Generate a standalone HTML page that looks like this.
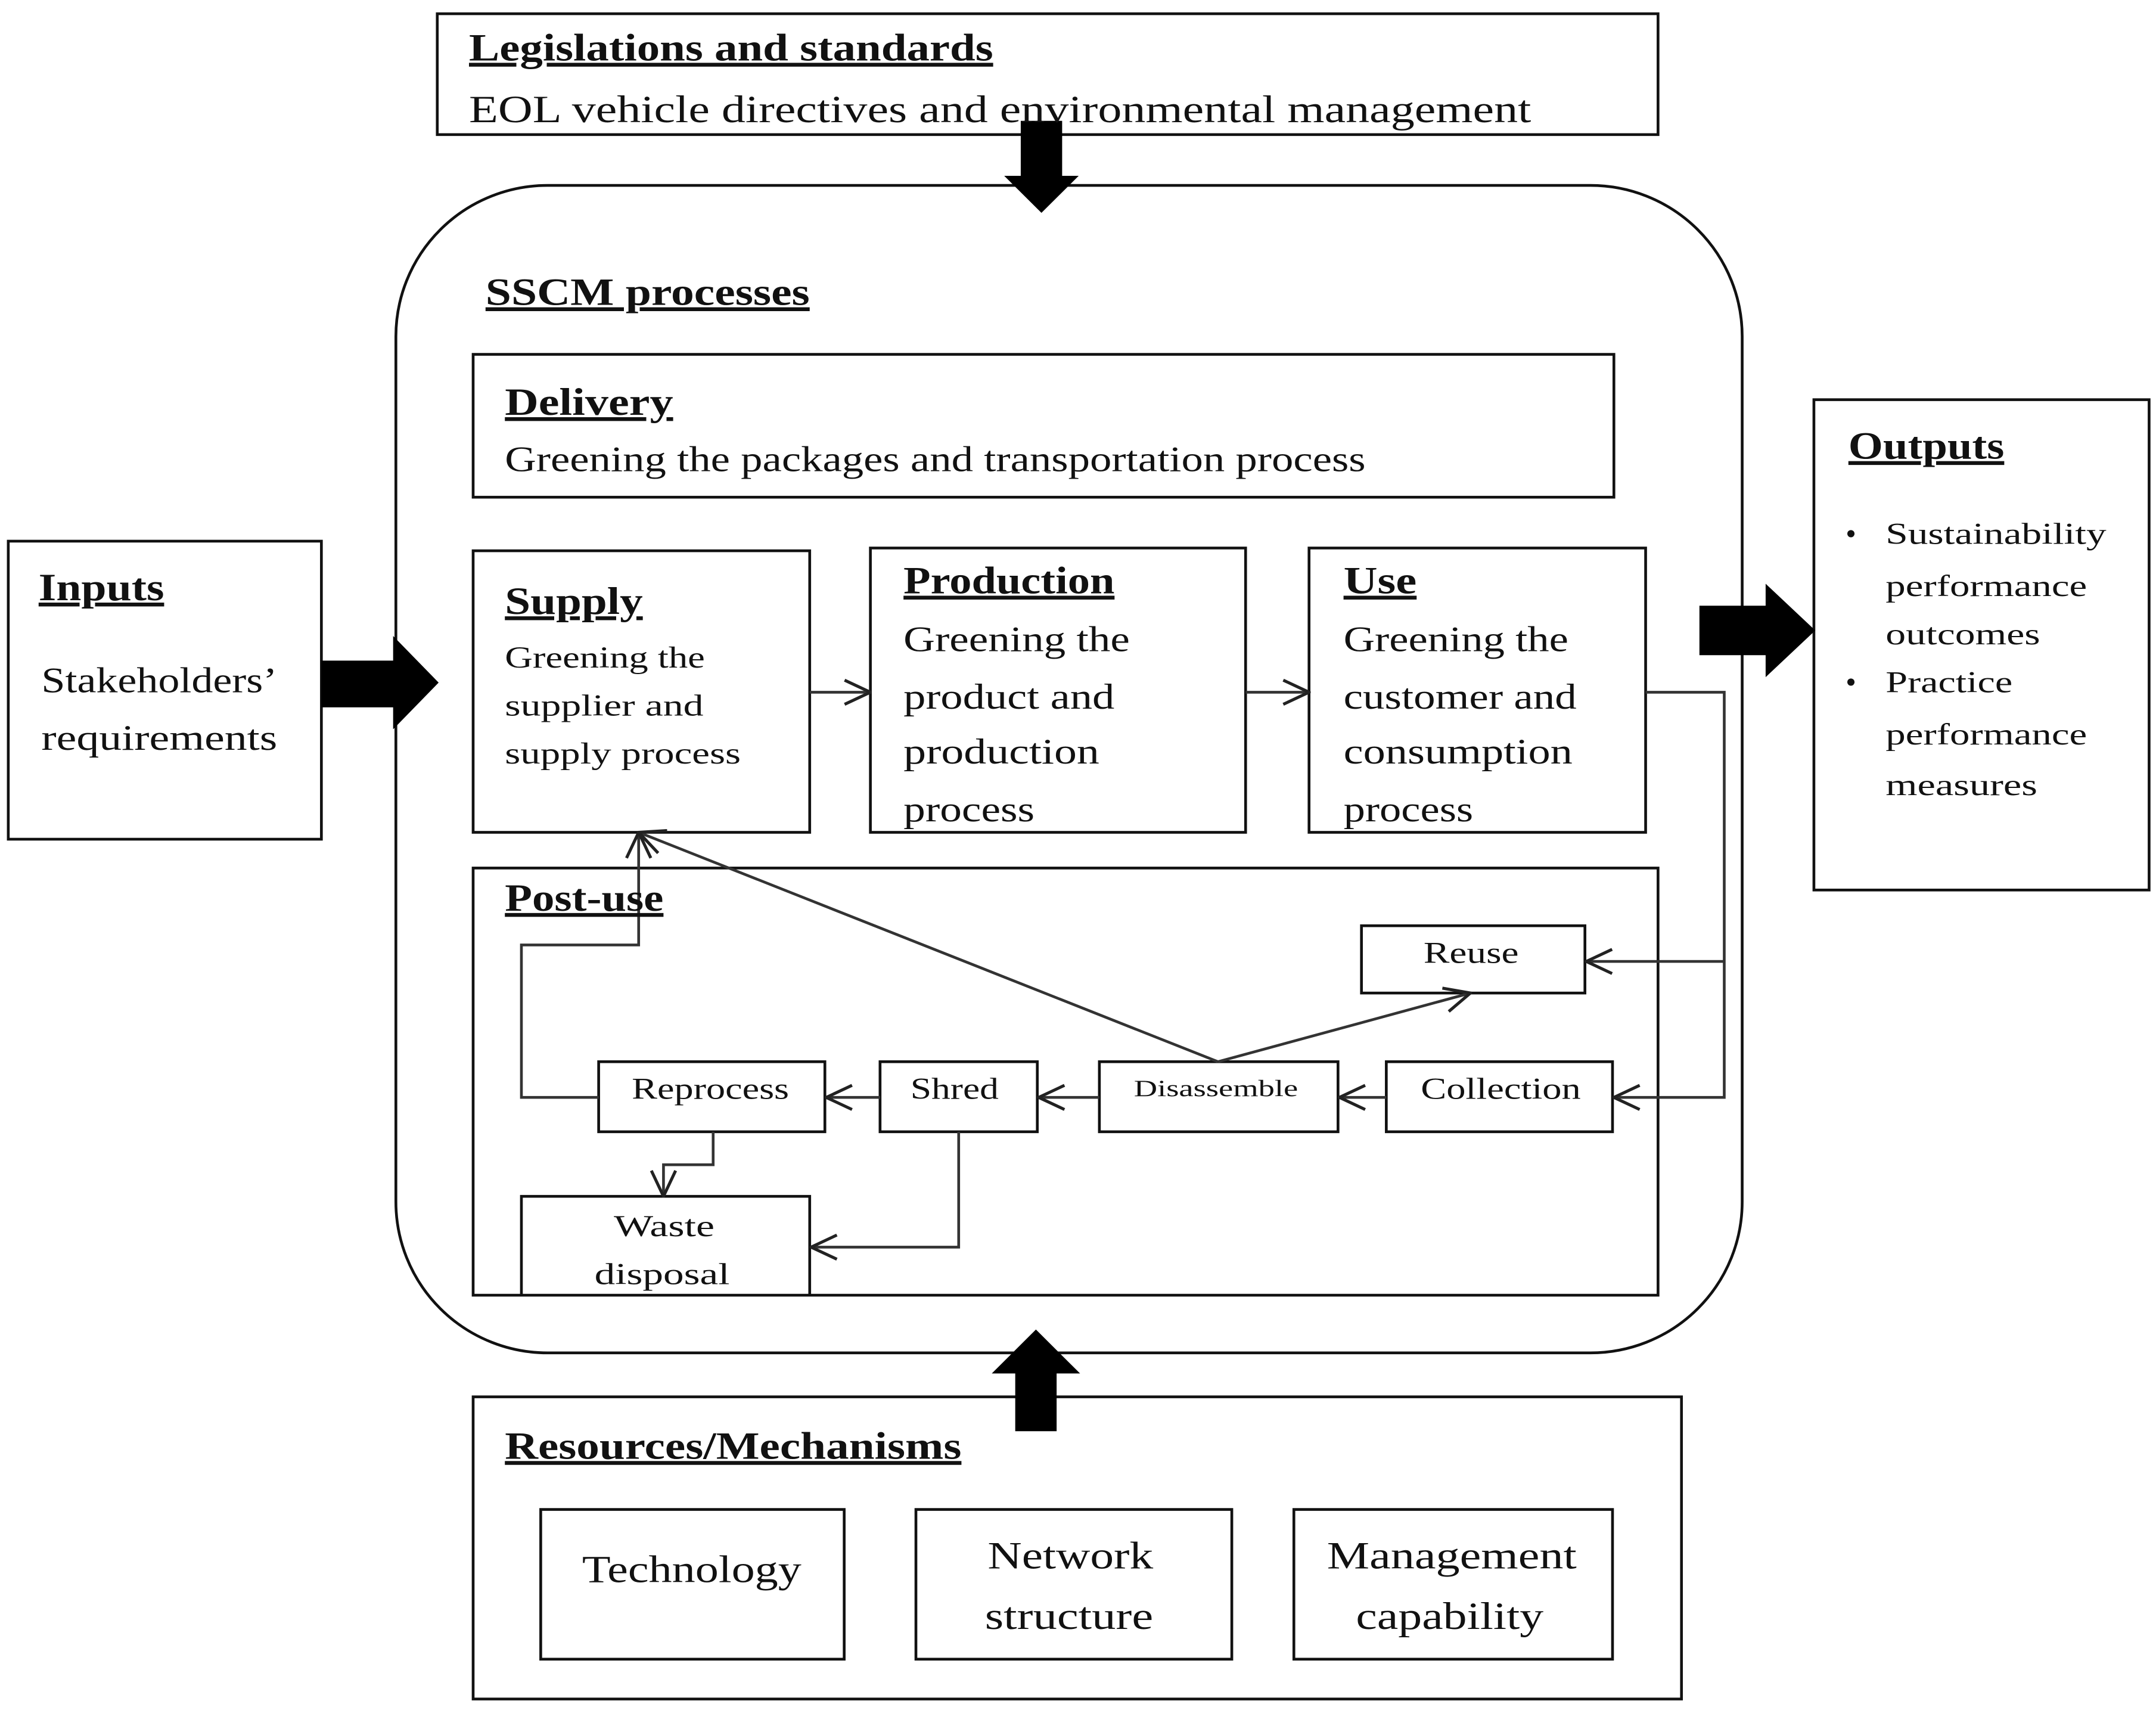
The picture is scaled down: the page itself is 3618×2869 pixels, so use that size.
<!DOCTYPE html>
<html><head><meta charset="utf-8"><style>
html,body{margin:0;padding:0;background:#fff}
svg{display:block}
text{font-family:"Liberation Serif",serif;fill:#111}
.b{font-weight:bold;text-decoration:underline}
</style></head><body>
<svg width="3618" height="2869" viewBox="0 0 1563 1245" preserveAspectRatio="none" xmlns="http://www.w3.org/2000/svg">
<defs>
<marker id="a" viewBox="0 0 20 20" refX="19" refY="10" markerWidth="22" markerHeight="22" markerUnits="userSpaceOnUse" orient="auto">
<path d="M2 2 L19 10 L2 18" fill="none" stroke="#222" stroke-width="2"/>
</marker>
</defs>
<g fill="none" stroke="#111" stroke-width="2">
<rect x="317" y="10" width="885" height="88"/>
<rect x="287" y="135" width="976" height="850" rx="110"/>
<rect x="343" y="258" width="827" height="104"/>
<rect x="343" y="401" width="244" height="205"/>
<rect x="631" y="399" width="272" height="207"/>
<rect x="949" y="399" width="244" height="207"/>
<rect x="343" y="632" width="859" height="311"/>
<rect x="6" y="394" width="227" height="217"/>
<rect x="1315" y="291" width="243" height="357"/>
<rect x="343" y="1017" width="876" height="220"/>
<rect x="392" y="1099" width="220" height="109"/>
<rect x="664" y="1099" width="229" height="109"/>
<rect x="938" y="1099" width="231" height="109"/>
<rect x="987" y="674" width="162" height="49"/>
<rect x="1005" y="773" width="164" height="51"/>
<rect x="797" y="773" width="173" height="51"/>
<rect x="638" y="773" width="114" height="51"/>
<rect x="434" y="773" width="164" height="51"/>
<path d="M378 943 V871 H587 V943"/>
</g>
<g fill="#000">
<path d="M740 88 H770 V128 H782 L755 155 L728 128 H740 Z"/>
<path d="M233 481 H285 V463 L318 497 L285 531 V515 H233 Z"/>
<path d="M1232 441 H1280 V425 L1316 459 L1280 493 V477 H1232 Z"/>
<path d="M736 1042 H766 V1000 H783 L751 968 L719 1000 H736 Z"/>
</g>
<g fill="none" stroke="#333" stroke-width="2" marker-end="url(#a)">
<path d="M587 504 H631"/>
<path d="M903 504 H949"/>
<path d="M1193 504 H1250 V799 H1170"/>
<path d="M1250 700 H1150"/>
<path d="M1005 799 H971"/>
<path d="M797 799 H753"/>
<path d="M638 799 H599"/>
<path d="M883 773 L463 606"/>
<path d="M883 773 L1066 723"/>
<path d="M434 799 H378 V688 H463 V606"/>
<path d="M517 824 V848 H481 V871"/>
<path d="M695 824 V908 H588"/>
</g>
<g lengthAdjust="spacingAndGlyphs">
<text x="340" y="44" font-size="28" class="b" textLength="380" lengthAdjust="spacingAndGlyphs">Legislations and standards</text>
<text x="340" y="89" font-size="28" textLength="770" lengthAdjust="spacingAndGlyphs">EOL vehicle directives and environmental management</text>
<text x="352" y="222" font-size="28" class="b" textLength="235" lengthAdjust="spacingAndGlyphs">SSCM processes</text>
<text x="366" y="302" font-size="28" class="b" textLength="122" lengthAdjust="spacingAndGlyphs">Delivery</text>
<text x="366" y="343" font-size="26" textLength="624" lengthAdjust="spacingAndGlyphs">Greening the packages and transportation process</text>
<text x="366" y="447" font-size="28" class="b" textLength="100" lengthAdjust="spacingAndGlyphs">Supply</text>
<text x="366" y="486" font-size="22" textLength="145" lengthAdjust="spacingAndGlyphs">Greening the</text>
<text x="366" y="521" font-size="22" textLength="144" lengthAdjust="spacingAndGlyphs">supplier and</text>
<text x="366" y="556" font-size="22" textLength="171" lengthAdjust="spacingAndGlyphs">supply process</text>
<text x="655" y="432" font-size="28" class="b" textLength="153" lengthAdjust="spacingAndGlyphs">Production</text>
<text x="655" y="474" font-size="26" textLength="164" lengthAdjust="spacingAndGlyphs">Greening the</text>
<text x="655" y="516" font-size="26" textLength="153" lengthAdjust="spacingAndGlyphs">product and</text>
<text x="655" y="556" font-size="26" textLength="142" lengthAdjust="spacingAndGlyphs">production</text>
<text x="655" y="598" font-size="26" textLength="95" lengthAdjust="spacingAndGlyphs">process</text>
<text x="974" y="432" font-size="28" class="b" textLength="53" lengthAdjust="spacingAndGlyphs">Use</text>
<text x="974" y="474" font-size="26" textLength="163" lengthAdjust="spacingAndGlyphs">Greening the</text>
<text x="974" y="516" font-size="26" textLength="169" lengthAdjust="spacingAndGlyphs">customer and</text>
<text x="974" y="556" font-size="26" textLength="166" lengthAdjust="spacingAndGlyphs">consumption</text>
<text x="974" y="598" font-size="26" textLength="94" lengthAdjust="spacingAndGlyphs">process</text>
<text x="366" y="663" font-size="28" class="b" textLength="115" lengthAdjust="spacingAndGlyphs">Post-use</text>
<text x="28" y="437" font-size="28" class="b" textLength="91" lengthAdjust="spacingAndGlyphs">Inputs</text>
<text x="30" y="504" font-size="26" textLength="171" lengthAdjust="spacingAndGlyphs">Stakeholders’</text>
<text x="30" y="546" font-size="26" textLength="171" lengthAdjust="spacingAndGlyphs">requirements</text>
<text x="1340" y="334" font-size="28" class="b" textLength="113" lengthAdjust="spacingAndGlyphs">Outputs</text>
<text x="1338" y="396" font-size="22">•</text>
<text x="1367" y="396" font-size="22" textLength="160" lengthAdjust="spacingAndGlyphs">Sustainability</text>
<text x="1367" y="434" font-size="22" textLength="146" lengthAdjust="spacingAndGlyphs">performance</text>
<text x="1367" y="469" font-size="22" textLength="112" lengthAdjust="spacingAndGlyphs">outcomes</text>
<text x="1338" y="504" font-size="22">•</text>
<text x="1367" y="504" font-size="22" textLength="92" lengthAdjust="spacingAndGlyphs">Practice</text>
<text x="1367" y="542" font-size="22" textLength="146" lengthAdjust="spacingAndGlyphs">performance</text>
<text x="1367" y="579" font-size="22" textLength="110" lengthAdjust="spacingAndGlyphs">measures</text>
<text x="1032" y="701" font-size="22" textLength="69" lengthAdjust="spacingAndGlyphs">Reuse</text>
<text x="1030" y="800" font-size="22" textLength="116" lengthAdjust="spacingAndGlyphs">Collection</text>
<text x="822" y="798" font-size="17" textLength="119" lengthAdjust="spacingAndGlyphs">Disassemble</text>
<text x="660" y="800" font-size="22" textLength="64" lengthAdjust="spacingAndGlyphs">Shred</text>
<text x="458" y="800" font-size="22" textLength="114" lengthAdjust="spacingAndGlyphs">Reprocess</text>
<text x="445" y="900" font-size="22" textLength="73" lengthAdjust="spacingAndGlyphs">Waste</text>
<text x="431" y="935" font-size="22" textLength="98" lengthAdjust="spacingAndGlyphs">disposal</text>
<text x="366" y="1062" font-size="28" class="b" textLength="331" lengthAdjust="spacingAndGlyphs">Resources/Mechanisms</text>
<text x="422" y="1152" font-size="28" textLength="159" lengthAdjust="spacingAndGlyphs">Technology</text>
<text x="716" y="1142" font-size="28" textLength="120" lengthAdjust="spacingAndGlyphs">Network</text>
<text x="714" y="1186" font-size="28" textLength="122" lengthAdjust="spacingAndGlyphs">structure</text>
<text x="962" y="1142" font-size="28" textLength="181" lengthAdjust="spacingAndGlyphs">Management</text>
<text x="983" y="1186" font-size="28" textLength="136" lengthAdjust="spacingAndGlyphs">capability</text>
</g>
</svg>
</body></html>
